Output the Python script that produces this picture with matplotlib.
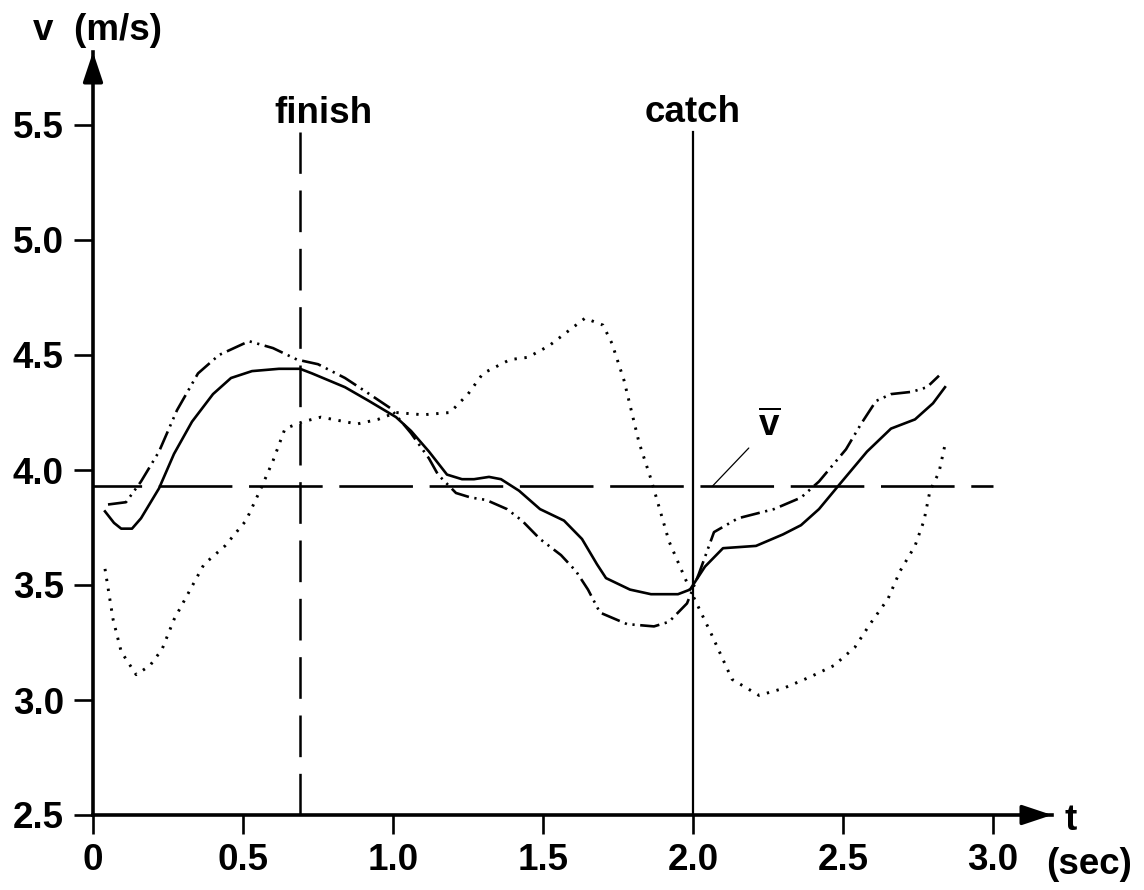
import matplotlib
matplotlib.use('Agg')
from matplotlib import pyplot as plt

plt.rcParams['font.family'] = ['Liberation Sans', 'DejaVu Sans']
plt.rcParams['font.weight'] = 'bold'
plt.rcParams['lines.scale_dashes'] = False
plt.rcParams['mathtext.fontset'] = 'custom'
plt.rcParams['mathtext.bf'] = 'Liberation Sans:bold'
plt.rcParams['mathtext.rm'] = 'Liberation Sans:bold'

# boat velocity over one stroke cycle
t_solid = [0.04, 0.07, 0.094, 0.13, 0.16, 0.22, 0.27, 0.33, 0.40, 0.46, 0.53, 0.62, 0.69,
           0.73, 0.84, 0.92, 1.01, 1.06, 1.12, 1.18, 1.23, 1.27, 1.32, 1.36, 1.42, 1.49,
           1.57, 1.63, 1.68, 1.71, 1.79, 1.86, 1.95, 1.99, 2.04, 2.10, 2.21, 2.30, 2.36,
           2.42, 2.49, 2.58, 2.66, 2.74, 2.80, 2.84]
v_solid = [3.82, 3.77, 3.745, 3.745, 3.79, 3.92, 4.07, 4.21, 4.33, 4.40, 4.43, 4.44, 4.44,
           4.42, 4.36, 4.30, 4.23, 4.17, 4.08, 3.98, 3.96, 3.96, 3.97, 3.96, 3.91, 3.83,
           3.78, 3.70, 3.59, 3.53, 3.48, 3.46, 3.46, 3.48, 3.58, 3.66, 3.67, 3.72, 3.76,
           3.83, 3.94, 4.08, 4.18, 4.22, 4.29, 4.36]

t_dashdot = [0.05, 0.11, 0.16, 0.22, 0.28, 0.35, 0.42, 0.52, 0.60, 0.68, 0.75, 0.84, 0.91,
             0.99, 1.06, 1.12, 1.15, 1.21, 1.26, 1.31, 1.38, 1.43, 1.49, 1.56, 1.61, 1.65,
             1.69, 1.78, 1.87, 1.92, 1.98, 2.02, 2.07, 2.15, 2.27, 2.36, 2.42, 2.51, 2.56,
             2.61, 2.66, 2.73, 2.78, 2.82]
v_dashdot = [3.85, 3.86, 3.95, 4.08, 4.26, 4.42, 4.50, 4.56, 4.53, 4.48, 4.46, 4.40, 4.34,
             4.27, 4.16, 4.05, 3.98, 3.90, 3.88, 3.87, 3.83, 3.78, 3.70, 3.63, 3.56, 3.48,
             3.38, 3.33, 3.32, 3.34, 3.42, 3.55, 3.73, 3.79, 3.83, 3.88, 3.95, 4.09, 4.20,
             4.30, 4.33, 4.34, 4.36, 4.41]

t_dotted = [0.04, 0.067, 0.094, 0.144, 0.19, 0.23, 0.27, 0.32, 0.37, 0.44, 0.51, 0.56, 0.60,
            0.64, 0.70, 0.76, 0.88, 0.95, 1.01, 1.10, 1.19, 1.25, 1.30, 1.39, 1.45, 1.52,
            1.58, 1.64, 1.70, 1.73, 1.77, 1.82, 1.86, 1.92, 1.99, 2.06, 2.13, 2.22, 2.30,
            2.39, 2.47, 2.54, 2.59, 2.65, 2.69, 2.74, 2.77, 2.79, 2.82, 2.84]
v_dotted = [3.57, 3.35, 3.21, 3.11, 3.15, 3.22, 3.35, 3.47, 3.59, 3.67, 3.78, 3.92, 4.04,
            4.18, 4.21, 4.23, 4.20, 4.22, 4.25, 4.24, 4.25, 4.33, 4.42, 4.48, 4.49, 4.54,
            4.60, 4.66, 4.63, 4.55, 4.39, 4.12, 3.96, 3.69, 3.48, 3.29, 3.09, 3.02, 3.05,
            3.10, 3.15, 3.23, 3.33, 3.44, 3.56, 3.67, 3.78, 3.91, 3.99, 4.11]

v_mean = 3.93
t_finish = 0.69
t_catch = 2.0
x_ticks = [0, 0.5, 1.0, 1.5, 2.0, 2.5, 3.0]
x_labels = ['0', '0.5', '1.0', '1.5', '2.0', '2.5', '3.0']
y_ticks = [2.5, 3.0, 3.5, 4.0, 4.5, 5.0, 5.5]

W, H = 1144, 890
FS = 26.5
fig = plt.figure(figsize=(W / 100, H / 100), dpi=100)
# axes placed in pixels: origin at (93, 815), arrow tips at x=1052 and y=52
ax = fig.add_axes([93 / W, (H - 815) / H, (1052 - 93) / W, (815 - 52) / H])
ax.set_xlim(0, (1052 - 93) / 300)
ax.set_ylim(2.5, 2.5 + (815 - 52) / 230)

ax.plot(t_solid, v_solid, color='black', lw=1.9)
ax.plot(t_dashdot, v_dashdot, color='black', lw=1.9,
        linestyle=(0, (14, 4, 1.6, 4, 1.6, 4)))
ax.plot(t_dotted, v_dotted, color='black', lw=2.1, linestyle=(0, (1.7, 5.5)))

# mean velocity, finish and catch markers
ax.plot([0, 3.0], [v_mean, v_mean], color='black', lw=1.9, linestyle=(18, (53, 12)))
ax.plot([t_finish, t_finish], [2.5, 5.47], color='black', lw=1.8, linestyle=(0, (30, 12)))
ax.plot([t_catch, t_catch], [2.5, 5.47], color='black', lw=1.6)

ax.text(t_finish + 0.077, 5.51, 'finish', ha='center', va='baseline', fontsize=FS)
ax.text(t_catch, 5.515, 'catch', ha='center', va='baseline', fontsize=FS)
ax.annotate(r'$\overline{\mathbf{v}}$', xy=(2.065, v_mean), xytext=(2.255, 4.19),
            ha='center', va='center', fontsize=FS,
            arrowprops=dict(arrowstyle='-', color='black', lw=0.9, shrinkA=7, shrinkB=0))

for side in ['top', 'right']:
    ax.spines[side].set_visible(False)
for side in ['left', 'bottom']:
    ax.spines[side].set_linewidth(2.6)

ax.set_xticks(x_ticks)
ax.set_xticklabels(x_labels)
ax.set_yticks(y_ticks)
ax.tick_params(axis='both', direction='out', length=14, width=1.9, labelsize=FS)
ax.tick_params(axis='x', pad=6)
ax.tick_params(axis='y', pad=7)

# arrow heads at the ends of the axes
ax.annotate('', xy=(1, 0), xycoords='axes fraction', xytext=(0.97, 0),
            arrowprops=dict(arrowstyle='-|>,head_length=1.8,head_width=0.6',
                            color='black', lw=2.6, shrinkA=0, shrinkB=0))
ax.annotate('', xy=(0, 1), xycoords='axes fraction', xytext=(0, 0.96),
            arrowprops=dict(arrowstyle='-|>,head_length=1.8,head_width=0.6',
                            color='black', lw=2.6, shrinkA=0, shrinkB=0))

fig.text(33 / W, 1 - 40 / H, 'v  (m/s)', ha='left', va='baseline', fontsize=FS)
fig.text(1071 / W, 1 - 830 / H, 't', ha='center', va='baseline', fontsize=FS)
fig.text(1089 / W, 1 - 874 / H, '(sec)', ha='center', va='baseline', fontsize=FS)

fig.savefig('out.png', dpi=100)
